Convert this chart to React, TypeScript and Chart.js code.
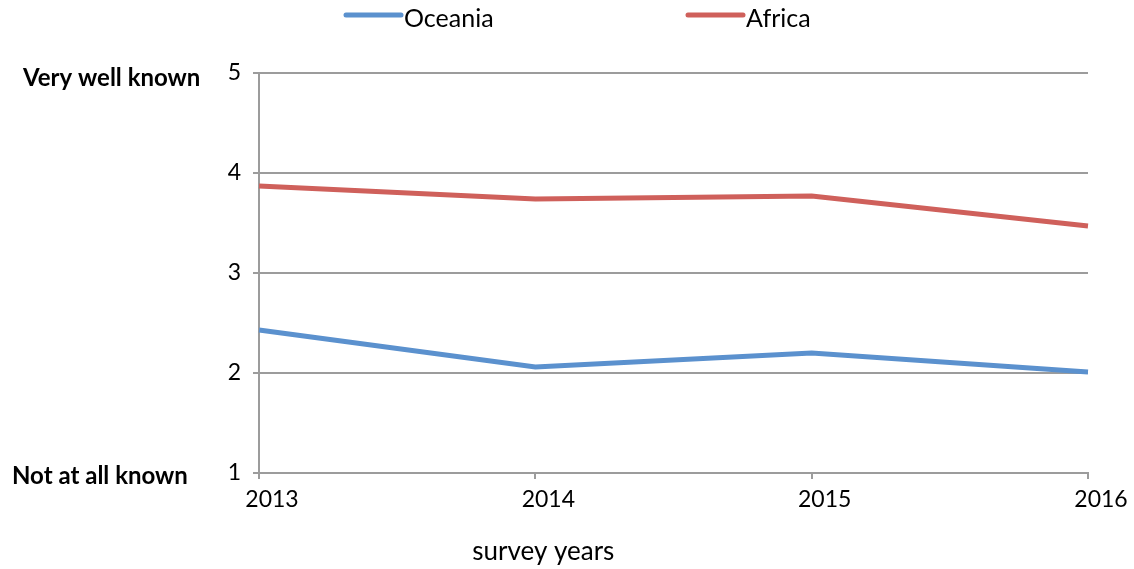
import React, { useEffect, useRef } from "react";
import { Chart, registerables } from "chart.js";

Chart.register(...registerables);

const years = ["2013", "2014", "2015", "2016"];
const oceania = [2.43, 2.06, 2.2, 2.01];
const africa = [3.87, 3.74, 3.77, 3.47];
const yMin = 1;
const yMax = 5;
const topLabel = "Very well known";
const bottomLabel = "Not at all known";
const xTitle = "survey years";

const BLUE = "#5B91CE";
const RED = "#CF605B";
const GRID = "#9C9C9C";
const FONT = "Lato, 'Open Sans', sans-serif";

const extrasPlugin = {
  id: "extras",
  afterDraw(chart: any) {
    const ctx = chart.ctx;
    const y = chart.scales.y;
    const area = chart.chartArea;
    ctx.save();
    ctx.fillStyle = "#000";
    ctx.font = `bold 24px ${FONT}`;
    ctx.textBaseline = "middle";
    ctx.textAlign = "left";
    ctx.fillText(topLabel, 23, y.getPixelForValue(yMax) + 5);
    ctx.fillText(bottomLabel, 12, y.getPixelForValue(yMin) + 3);
    ctx.font = `26px ${FONT}`;
    ctx.textAlign = "center";
    ctx.fillText(xTitle, area.left + (area.right - area.left) * 0.343, 552);
    const items = [
      { label: "Oceania", color: BLUE, x: 346 },
      { label: "Africa", color: RED, x: 688 },
    ];
    items.forEach((it) => {
      ctx.strokeStyle = it.color;
      ctx.lineWidth = 5;
      ctx.lineCap = "round";
      ctx.beginPath();
      ctx.moveTo(it.x, 15);
      ctx.lineTo(it.x + 55, 15);
      ctx.stroke();
      ctx.fillStyle = "#000";
      ctx.textAlign = "left";
      ctx.font = `25px ${FONT}`;
      ctx.fillText(it.label, it.x + 58, 19);
    });
    ctx.restore();
  },
};

export default function App() {
  const ref = useRef<HTMLCanvasElement>(null);
  useEffect(() => {
    if (!ref.current) return;
    const chart = new Chart(ref.current, {
      type: "line",
      data: {
        labels: years,
        datasets: [
          {
            label: "Oceania",
            data: oceania,
            borderColor: BLUE,
            backgroundColor: BLUE,
            borderWidth: 5,
            pointRadius: 0,
            tension: 0,
          },
          {
            label: "Africa",
            data: africa,
            borderColor: RED,
            backgroundColor: RED,
            borderWidth: 5,
            pointRadius: 0,
            tension: 0,
          },
        ],
      },
      options: {
        animation: false,
        responsive: false,
        layout: { padding: { top: 73, right: 46, left: 0, bottom: 0 } },
        plugins: { legend: { display: false }, tooltip: { enabled: false } },
        scales: {
          x: {
            offset: false,
            grid: {
              drawOnChartArea: false,
              drawTicks: true,
              tickLength: 6,
              color: GRID,
              lineWidth: 2,
            },
            border: { display: true, color: GRID, width: 2 },
            ticks: {
              color: "#000",
              font: { family: FONT, size: 23 },
              padding: 7,
              labelOffset: 13,
              maxRotation: 0,
            },
            afterFit: (s: any) => {
              s.height = 96;
            },
          },
          y: {
            min: yMin,
            max: yMax,
            grid: {
              drawOnChartArea: true,
              drawTicks: true,
              tickLength: 6,
              color: GRID,
              lineWidth: 2,
            },
            border: { display: true, color: GRID, width: 2 },
            ticks: {
              stepSize: 1,
              color: "#000",
              font: { family: FONT, size: 23 },
              padding: 12,
            },
            afterFit: (s: any) => {
              s.width = 259;
            },
          },
        },
      },
      plugins: [extrasPlugin],
    });
    return () => chart.destroy();
  }, []);
  return (
    <div style={{ position: "fixed", left: 0, top: 0, width: 1134, height: 569, background: "#fff" }}>
      <canvas ref={ref} width={1134} height={569} />
    </div>
  );
}
